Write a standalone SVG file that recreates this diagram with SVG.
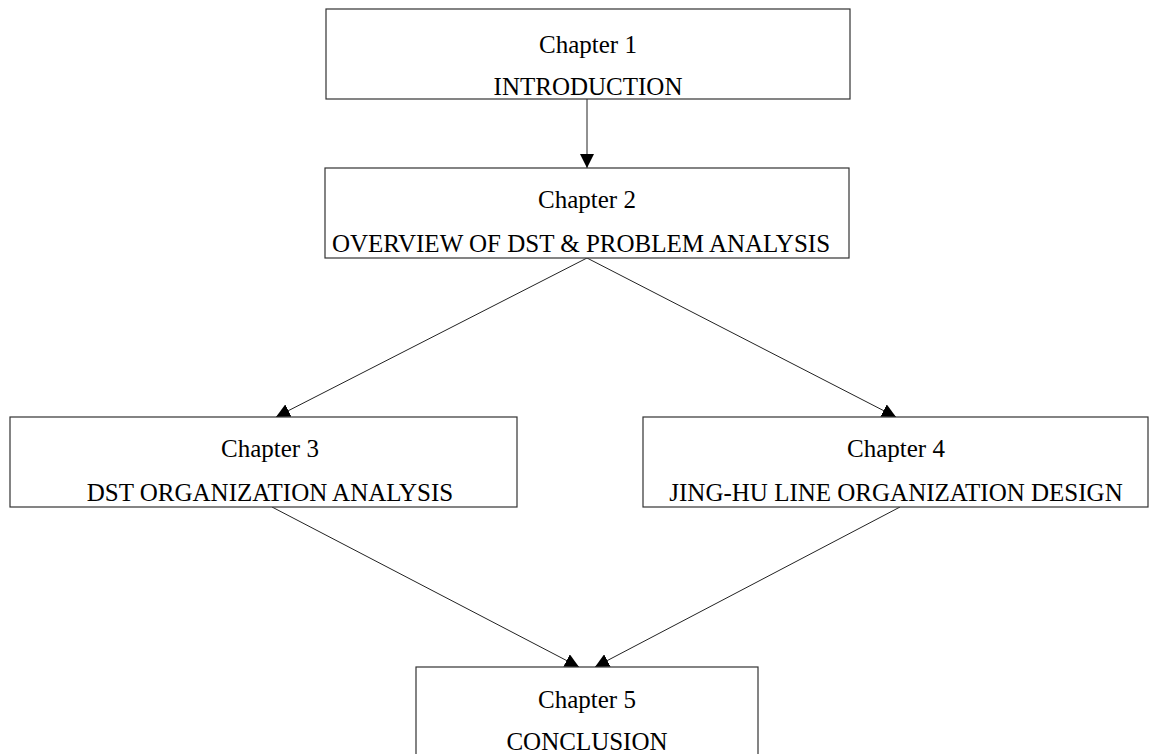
<svg xmlns="http://www.w3.org/2000/svg" width="1162" height="754" viewBox="0 0 1162 754">
<style>
.box{fill:#fff;stroke:#333;stroke-width:1.2}
.t{font-family:"Liberation Serif","Times New Roman",serif;font-size:25px;fill:#000;text-anchor:middle}
.c{stroke:#222;stroke-width:1;fill:none;marker-end:url(#ah)}
</style>
<defs>
<marker id="ah" viewBox="0 0 14 14" refX="14" refY="7" markerWidth="14" markerHeight="14" markerUnits="userSpaceOnUse" orient="auto">
<path d="M0,0 L14,7 L0,14 Z" fill="#000"/>
</marker>
</defs>
<rect width="1162" height="754" fill="#fff"/>
<g id="connectors">
<line class="c" x1="587" y1="99" x2="587" y2="168"/>
<line class="c" x1="587" y1="258" x2="276" y2="417"/>
<line class="c" x1="587" y1="258" x2="896" y2="417"/>
<line class="c" x1="272" y1="507" x2="579" y2="667"/>
<line class="c" x1="900" y1="507" x2="595" y2="667"/>
</g>
<g id="n1">
<rect class="box" x="326" y="9" width="524" height="90"/>
<text class="t" x="588" y="53">Chapter 1</text>
<text class="t" x="588" y="95">INTRODUCTION</text>
</g>
<g id="n2">
<rect class="box" x="325" y="168" width="524" height="90"/>
<text class="t" x="587" y="208">Chapter 2</text>
<text class="t" x="581" y="252">OVERVIEW OF DST &amp; PROBLEM ANALYSIS</text>
</g>
<g id="n3">
<rect class="box" x="10" y="417" width="507" height="90"/>
<text class="t" x="270" y="457">Chapter 3</text>
<text class="t" x="270" y="501">DST ORGANIZATION ANALYSIS</text>
</g>
<g id="n4">
<rect class="box" x="643" y="417" width="505" height="90"/>
<text class="t" x="896" y="457">Chapter 4</text>
<text class="t" x="896" y="501">JING-HU LINE ORGANIZATION DESIGN</text>
</g>
<g id="n5">
<rect class="box" x="416" y="667" width="342" height="100"/>
<text class="t" x="587" y="708">Chapter 5</text>
<text class="t" x="587" y="750">CONCLUSION</text>
</g>
</svg>
